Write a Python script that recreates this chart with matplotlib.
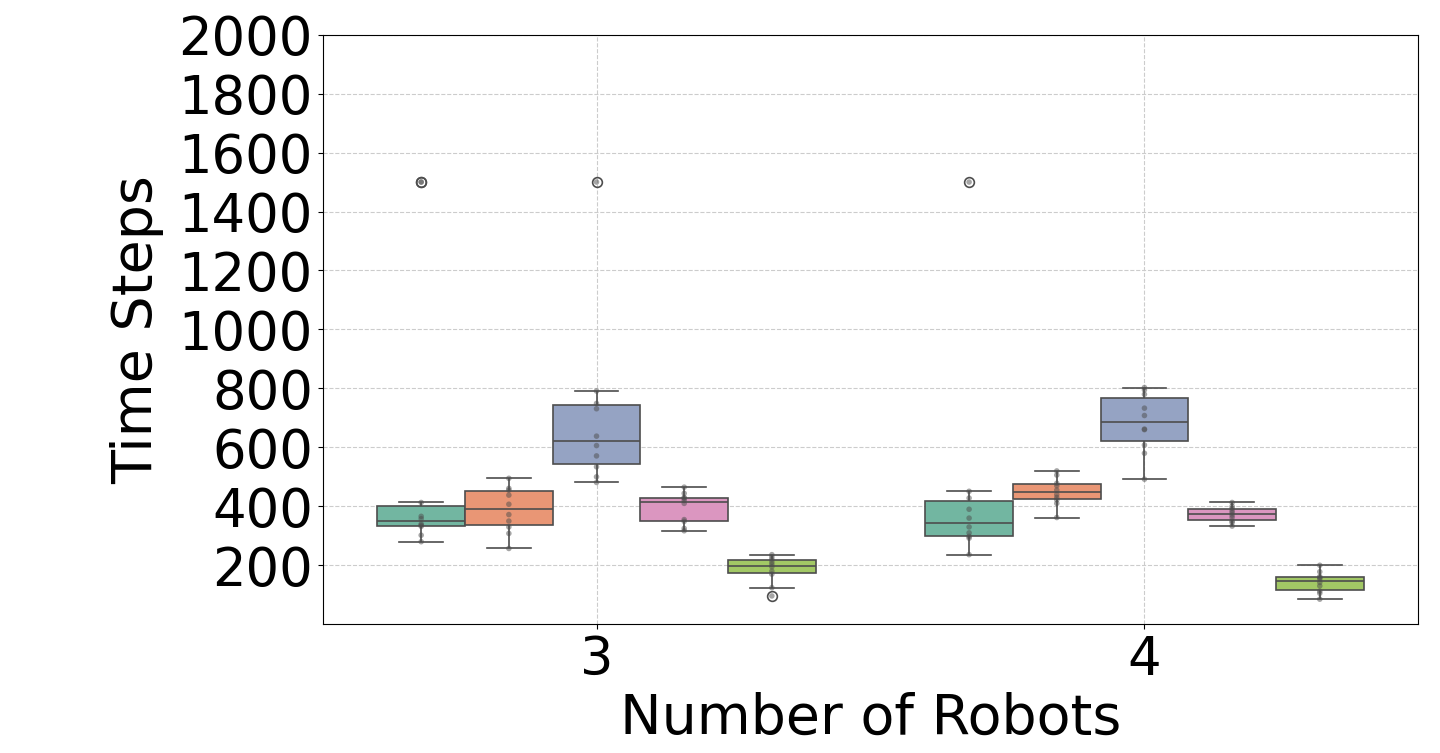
import numpy as np
import pandas as pd
import matplotlib
matplotlib.use("Agg")
import matplotlib.pyplot as plt
import seaborn as sns

robots = ["3", "4"]
methods = ["M1", "M2", "M3", "M4", "M5"]

# time steps per run, one list per (robots, method)
steps_3 = {
    "M1": [280, 302, 332, 336, 340, 358, 366, 413, 1500, 1500],
    "M2": [257, 308, 330, 350, 372, 407, 438, 455, 461, 495],
    "M3": [481, 500, 534, 571, 606, 638, 731, 749, 791, 1500],
    "M4": [317, 325, 349, 355, 410, 420, 427, 430, 444, 465],
    "M5": [96, 124, 170, 180, 195, 203, 211, 220, 228, 236],
}
steps_4 = {
    "M1": [236, 292, 298, 310, 330, 360, 390, 428, 451, 1500],
    "M2": [362, 410, 422, 430, 440, 455, 470, 478, 506, 520],
    "M3": [492, 580, 608, 660, 662, 708, 733, 780, 795, 803],
    "M4": [333, 345, 350, 362, 370, 378, 385, 393, 400, 413],
    "M5": [85, 105, 112, 130, 142, 154, 158, 162, 178, 200],
}

rows = []
for r, d in zip(robots, [steps_3, steps_4]):
    for m in methods:
        for v in d[m]:
            rows.append((r, m, v))
df = pd.DataFrame(rows, columns=["robots", "method", "steps"])

fig = plt.figure(figsize=(14.4, 7.53), dpi=100)
ax = fig.add_axes([0.224, 0.171, 0.761, 0.783])

sns.boxplot(data=df, x="robots", y="steps", hue="method", order=robots,
            hue_order=methods, palette="Set2", legend=False, ax=ax,
            linewidth=1.2, linecolor="0.3",
            flierprops=dict(marker="o", markersize=7, markerfacecolor="none",
                            markeredgecolor="0.3", markeredgewidth=1.2))
sns.stripplot(data=df, x="robots", y="steps", hue="method", order=robots,
              hue_order=methods, dodge=True, jitter=False, palette=["0.3"] * 5,
              size=4, alpha=0.5, legend=False, ax=ax)

ax.set_ylim(0, 2000)
ax.set_yticks(range(200, 2001, 200))
ax.grid(True, linestyle="--", color="0.8", linewidth=0.8)
ax.set_axisbelow(True)
ax.tick_params(labelsize=38)
ax.set_xlabel("Number of Robots", fontsize=40, labelpad=4)
ax.set_ylabel("Time Steps", fontsize=40, labelpad=10)
for s in ax.spines.values():
    s.set_visible(True)
    s.set_color("black")

fig.savefig("out.png", dpi=100)
